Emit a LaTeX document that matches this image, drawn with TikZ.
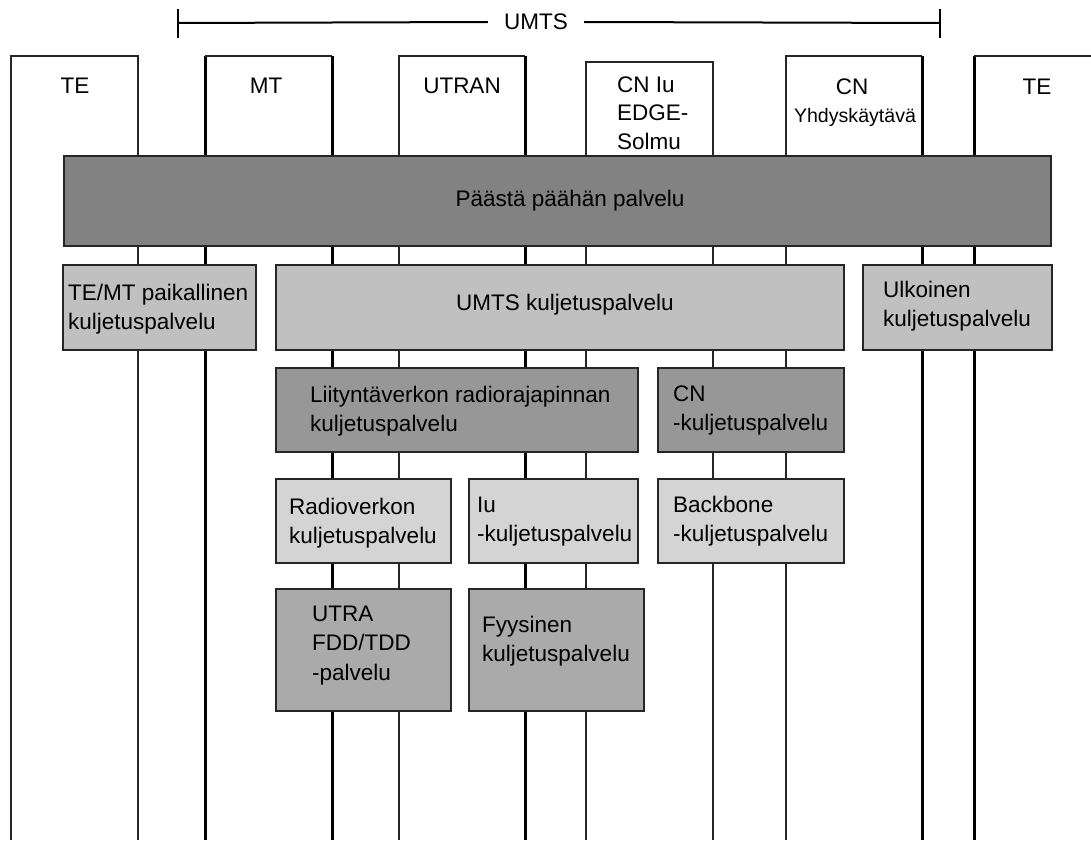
\documentclass[tikz,border=0pt]{standalone}
\usepackage{fontspec}
\setmainfont{Liberation Sans}
\definecolor{gE}{HTML}{828282}
\definecolor{gU}{HTML}{C0C0C0}
\definecolor{gL}{HTML}{979797}
\definecolor{gR}{HTML}{D4D4D4}
\definecolor{gF}{HTML}{AAAAAA}
\begin{document}
\begin{tikzpicture}[x=1pt,y=-1pt,
  thinline/.style={line width=1.2pt, black!85},
  thickline/.style={line width=3pt, black},
  col/.style={anchor=north west, inner sep=0pt, outer sep=0pt, minimum height=784pt},
  lay/.style={draw=black!85, line width=1.5pt, anchor=north west, inner sep=0pt, outer sep=0pt},
  txt/.style={anchor=base west, inner sep=0pt, font=\fontsize{22.5}{28.5}\selectfont, align=left},
  ctxt/.style={anchor=base, inner sep=0pt, font=\fontsize{22.5}{28.5}\selectfont},
]
\useasboundingbox[fill=white] (0,0) rectangle (1091,840);

% scope bar over the UMTS part
\coordinate (umtsL) at (178,23);
\coordinate (umtsR) at (940,23);
\node[inner xsep=16pt, inner ysep=0pt, font=\fontsize{22.5}{27}\selectfont] (umtslbl) at (536,22) {UMTS};
\draw[line width=2pt] (umtsL) -- (umtslbl.west);
\draw[line width=2pt] (umtslbl.east) -- (umtsR);
\draw[line width=1.6pt] ([yshift=-15pt]umtsL) -- ([yshift=14pt]umtsL);
\draw[line width=1.6pt] ([yshift=-15pt]umtsR) -- ([yshift=14pt]umtsR);

% entity columns, each open at the bottom
\node[col, minimum width=127pt] (te1) at (11,56) {};
\node[col, minimum width=127pt] (mt) at (205,56) {};
\node[col, minimum width=126pt] (utran) at (399,56) {};
\node[col, minimum width=127pt, minimum height=778pt] (cniu) at (586,62) {};
\node[col, minimum width=136pt] (cngw) at (786,56) {};
\node[col, minimum width=117pt] (te2) at (974,56) {};

\draw[thinline] (te1.south west) -- (te1.north west) -- (te1.north east) -- (te1.south east);
\draw[thickline] (mt.south west) -- (mt.north west);
\draw[thinline] (mt.north west) -- (mt.north east);
\draw[thickline] (mt.north east) -- (mt.south east);
\draw[thinline] (utran.south west) -- (utran.north west) -- (utran.north east);
\draw[thickline] (utran.north east) -- (utran.south east);
\draw[thinline] (cniu.south west) -- (cniu.north west) -- (cniu.north east) -- (cniu.south east);
\draw[thinline] (cngw.south west) -- (cngw.north west) -- (cngw.north east);
\draw[thickline] (cngw.north east) -- (cngw.south east);
\draw[thickline] (te2.south west) -- (te2.north west);
\draw[thinline] (te2.north west) -- (te2.north east);

% entity names (multi-line labels are placed by their last baseline)
\node[ctxt] (te1lbl) at (75,94) {TE};
\node[ctxt] (mtlbl) at (266,94) {MT};
\node[ctxt] (utranlbl) at (462,94) {UTRAN};
\node[txt] (cniulbl) at (617,149) {CN Iu\\EDGE-\\Solmu};
\node[ctxt] (cngwlbl) at (852,95) {CN};
\node[anchor=base, inner sep=0pt, font=\fontsize{19.6}{24}\selectfont] (cngwlbl2) at (855,122) {Yhdyskäytävä};
\node[ctxt] (te2lbl) at (1037,95) {TE};

% service layers
\node[lay, fill=gE, minimum width=987pt, minimum height=90pt] (e2e) at (64,156) {};
\node[ctxt] at (570,206) {Päästä päähän palvelu};

\node[lay, fill=gU, minimum width=193pt, minimum height=85pt] (local) at (63,265) {};
\node[txt] at (68,329) {TE/MT paikallinen\\kuljetuspalvelu};
\node[lay, fill=gU, minimum width=568pt, minimum height=85pt] (umtsb) at (276,265) {};
\node[ctxt] at (565,310) {UMTS kuljetuspalvelu};
\node[lay, fill=gU, minimum width=189pt, minimum height=85pt] (ext) at (863,265) {};
\node[txt] at (883,326) {Ulkoinen\\kuljetuspalvelu};

\node[lay, fill=gL, minimum width=362pt, minimum height=84pt] (ran) at (276,368) {};
\node[txt] at (310,431) {Liityntäverkon radiorajapinnan\\kuljetuspalvelu};
\node[lay, fill=gL, minimum width=186pt, minimum height=84pt] (cnb) at (658,368) {};
\node[txt] at (673,430) {CN\\-kuljetuspalvelu};

\node[lay, fill=gR, minimum width=175pt, minimum height=84pt] (radio) at (276,479) {};
\node[txt] at (289,543) {Radioverkon\\kuljetuspalvelu};
\node[lay, fill=gR, minimum width=169pt, minimum height=84pt] (iub) at (469,479) {};
\node[txt] at (477,541) {Iu\\-kuljetuspalvelu};
\node[lay, fill=gR, minimum width=186pt, minimum height=84pt] (bb) at (658,479) {};
\node[txt] at (673,541) {Backbone\\-kuljetuspalvelu};

\node[lay, fill=gF, minimum width=175pt, minimum height=122pt] (utra) at (276,589) {};
\node[txt, font=\fontsize{22.5}{29.5}\selectfont] at (312,680) {UTRA\\FDD/TDD\\-palvelu};
\node[lay, fill=gF, minimum width=175pt, minimum height=122pt] (phys) at (469,589) {};
\node[txt] at (482,661) {Fyysinen\\kuljetuspalvelu};
\end{tikzpicture}
\end{document}
